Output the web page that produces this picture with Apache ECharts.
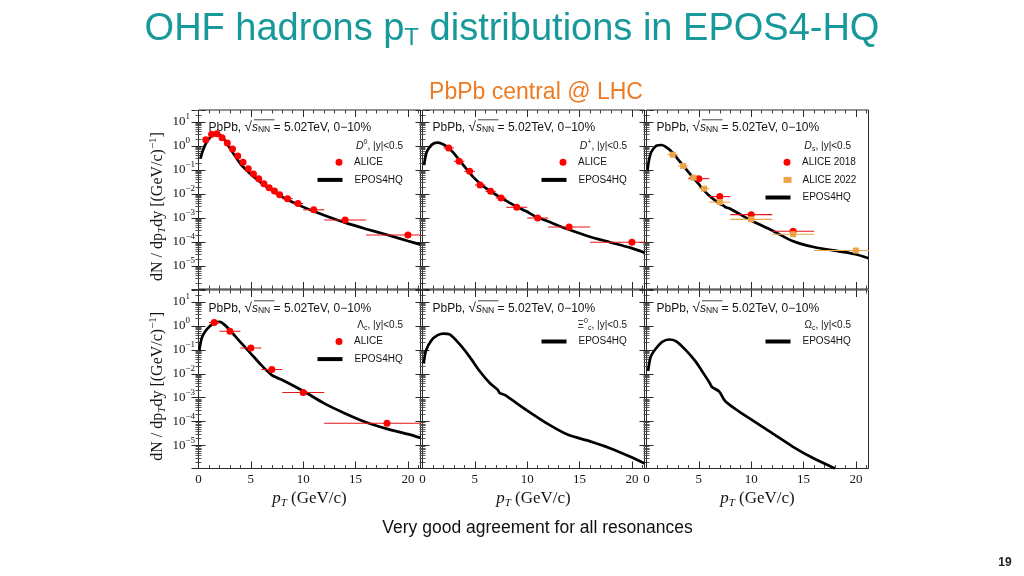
<!DOCTYPE html>
<html><head><meta charset="utf-8">
<script src="https://cdn.jsdelivr.net/npm/echarts@6/dist/echarts.min.js"></script>
<style>html,body{margin:0;padding:0;background:#fff}#c{width:1024px;height:576px}</style>
</head><body><div id="c"></div>
<script>
// ---------------- data ----------------
const Y_TICK_EXPONENTS = [1, 0, -1, -2, -3, -4, -5];
const X_TICKS = [0, 5, 10, 15, 20];

// D0
const D0_ALICE_PT  = [0.7,1.25,1.75,2.25,2.75,3.25,3.75,4.25,4.75,5.25,5.75,6.25,6.75,7.25,7.75,8.5,9.5,11,14,20];
const D0_ALICE_LO  = [0.5,1,1.5,2,2.5,3,3.5,4,4.5,5,5.5,6,6.5,7,7.5,8,9,10,12,16];
const D0_ALICE_HI  = [1,1.5,2,2.5,3,3.5,4,4.5,5,5.5,6,6.5,7,7.5,8,9,10,12,16,24];
const D0_ALICE_VAL = [1.84,3.1,3.2,2.22,1.33,0.75,0.38,0.21,0.114,0.068,0.0436,0.027,0.018,0.0133,0.0093,0.0064,0.004,0.0022,0.00083,0.000195];
const D0_EPOS_PT   = [0.2,0.3,0.5,0.75,1.0,1.25,1.5,1.75,2.0,2.5,3,3.5,4,5,6,7,8,9.5,11,12,14,16,18,20,21.2];
const D0_EPOS_VAL  = [0.3,0.45,0.8,1.4,2.0,2.6,3.1,3.2,3.0,1.75,0.8,0.38,0.18,0.066,0.029,0.014,0.0075,0.0036,0.0019,0.0013,0.00064,0.00035,0.0002,0.00011,0.000078];

// D+
const DP_ALICE_PT  = [2.5,3.5,4.5,5.5,6.5,7.5,9,11,14,20];
const DP_ALICE_LO  = [2,3,4,5,6,7,8,10,12,16];
const DP_ALICE_HI  = [3,4,5,6,7,8,10,12,16,24];
const DP_ALICE_VAL = [0.83,0.23,0.088,0.0237,0.0129,0.0068,0.0028,0.001,0.00042,0.000097];
const DP_EPOS_PT   = [0.15,0.4,0.9,1.4,1.9,2.4,2.9,3.9,4.9,5.9,6.9,7.9,8.9,9.9,10.9,11.9,13.9,15.9,17.9,19.9,21.2];
const DP_EPOS_VAL  = [0.16,0.56,1.14,1.37,1.21,0.88,0.56,0.16,0.048,0.0195,0.01,0.0055,0.0031,0.0019,0.0011,0.00075,0.00034,0.00017,0.000098,0.000057,0.000036];

// Ds
const DS22_PT  = [2.5,3.5,4.5,5.5,7,10,14,20];
const DS22_LO  = [2,3,4,5,6,8,12,16];
const DS22_HI  = [3,4,5,6,8,12,16,24];
const DS22_VAL = [0.435,0.147,0.048,0.0167,0.0046,0.00088,0.00021,0.000044];
const DS18_PT  = [5,7,10,14];
const DS18_LO  = [4,6,8,12];
const DS18_HI  = [6,8,12,16];
const DS18_VAL = [0.0436,0.0078,0.00138,0.00028];
const DS_EPOS_PT  = [0.1,0.2,0.45,0.95,1.45,1.95,2.45,2.95,3.95,4.95,5.95,6.95,7.35,7.55,7.95,9.95,11.95,13.95,15.95,19.95,21.2];
const DS_EPOS_VAL = [0.1,0.21,0.56,1.03,1.1,0.85,0.55,0.3,0.088,0.027,0.0088,0.004,0.0033,0.0028,0.0025,0.0008,0.00031,0.00011,0.000062,0.000031,0.000021];

// Lambda_c
const LC_ALICE_PT  = [1.5,3,5,7,10,18];
const LC_ALICE_LO  = [1,2,4,6,8,12];
const LC_ALICE_HI  = [2,4,6,8,12,24];
const LC_ALICE_VAL = [1.38,0.6,0.12,0.015,0.00166,0.000085];
const LC_EPOS_PT   = [0.08,0.3,0.6,1.1,1.5,2.05,2.5,3,4,5,6,7,7.5,8,10,12,14,16,18,20,21.2];
const LC_EPOS_VAL  = [0.094,0.3,0.56,1.0,1.3,1.47,1.1,0.66,0.21,0.07,0.023,0.0088,0.0068,0.0055,0.0019,0.00058,0.00022,0.000094,0.00005,0.00003,0.000021];

// Xi_c
const XC_EPOS_PT  = [0.1,0.35,0.85,1.45,2.0,2.6,3.5,4.5,5.45,6.4,7.2,7.35,7.85,9.9,12,13.9,16,17.9,19.8,21.2];
const XC_EPOS_VAL = [0.027,0.097,0.25,0.41,0.48,0.44,0.18,0.051,0.013,0.0042,0.0021,0.0016,0.0013,0.00031,0.000078,0.000028,0.000015,0.0000078,0.0000035,0.0000018];

// Omega_c
const OC_EPOS_PT  = [0.15,0.4,0.9,1.5,2.15,2.8,3.75,4.7,5.35,6.05,6.25,6.95,7.5,8.85,9.8,12,13.95,15.9,18];
const OC_EPOS_VAL = [0.013,0.051,0.114,0.215,0.27,0.23,0.097,0.032,0.012,0.004,0.0028,0.0018,0.00073,0.00026,0.00014,0.000033,0.0000091,0.000003,0.0000011];

// ---------------- layout / style ----------------
const SERIF = 'Liberation Serif, Times New Roman, serif';
const SANS = 'Liberation Sans, Arial, sans-serif';
const X_MAX = 21.2, Y_MIN = 1.1e-6, Y_MAX = 31.62;
const COL_LEFT = [198.5, 422.5, 646.5];
const COL_W = 222;
const ROW_TOP = [110, 290];
const ROW_H = [179, 178.5];
const RED = '#ff0000', ORANGE = '#eba447', BAR_RED = '#e8141c';

const panels = [
  {row:0,col:0,label:'{i|D}{sup|0}{t|, |y|<0.5}',
   alice:[{name:'ALICE',pt:D0_ALICE_PT,lo:D0_ALICE_LO,hi:D0_ALICE_HI,val:D0_ALICE_VAL,color:RED,bar:BAR_RED,symbol:'circle'}],
   epos:[D0_EPOS_PT,D0_EPOS_VAL]},
  {row:0,col:1,label:'{i|D}{sup|+}{t|, |y|<0.5}',
   alice:[{name:'ALICE',pt:DP_ALICE_PT,lo:DP_ALICE_LO,hi:DP_ALICE_HI,val:DP_ALICE_VAL,color:RED,bar:BAR_RED,symbol:'circle'}],
   epos:[DP_EPOS_PT,DP_EPOS_VAL]},
  {row:0,col:2,label:'{i|D}{subi|s}{t|, |y|<0.5}',
   alice:[{name:'ALICE 2018',pt:DS18_PT,lo:DS18_LO,hi:DS18_HI,val:DS18_VAL,color:RED,bar:BAR_RED,symbol:'circle'},
          {name:'ALICE 2022',pt:DS22_PT,lo:DS22_LO,hi:DS22_HI,val:DS22_VAL,color:ORANGE,bar:ORANGE,symbol:'rect'}],
   epos:[DS_EPOS_PT,DS_EPOS_VAL]},
  {row:1,col:0,label:'{t|Λ}{sub|c}{t|, |y|<0.5}',
   alice:[{name:'ALICE',pt:LC_ALICE_PT,lo:LC_ALICE_LO,hi:LC_ALICE_HI,val:LC_ALICE_VAL,color:RED,bar:BAR_RED,symbol:'circle'}],
   epos:[LC_EPOS_PT,LC_EPOS_VAL]},
  {row:1,col:1,label:'{t|Ξ}{sup|0}{sub|c}{t|, |y|<0.5}', alice:[], epos:[XC_EPOS_PT,XC_EPOS_VAL]},
  {row:1,col:2,label:'{t|Ω}{sub|c}{t|, |y|<0.5}', alice:[], epos:[OC_EPOS_PT,OC_EPOS_VAL]}
];

function yFmt(v){
  const e = Math.log10(v), r = Math.round(e);
  if (Math.abs(e - r) > 0.02 || Y_TICK_EXPONENTS.indexOf(r) < 0) return '';
  return '{a|10}{b|' + (r < 0 ? '−' + (-r) : r) + '}';
}
function xFmt(v){ return X_TICKS.indexOf(v) >= 0 ? String(v) : ''; }

const grid = [], xAxis = [], yAxis = [], series = [], legend = [], graphic = [];
const textColor = '#151515';

panels.forEach((p, g) => {
  const left = COL_LEFT[p.col], top = ROW_TOP[p.row], h = ROW_H[p.row];
  grid.push({left: left, top: top, width: COL_W, height: h, show: true,
             borderColor: '#2a2a2a', borderWidth: 1, backgroundColor: 'transparent'});
  const xBase = {type:'value', gridIndex:g, min:0, max:X_MAX, interval:5,
    axisLine:{show:false}, splitLine:{show:false},
    axisTick:{show:true, inside:true, length:7, lineStyle:{color:'#2a2a2a'}},
    minorTick:{show:true, splitNumber:5, length:3.5, lineStyle:{color:'#444'}}};
  const showXLabel = p.row === 1;
  xAxis.push(Object.assign({}, xBase, {position:'bottom',
    axisLabel:{show:showXLabel, formatter:xFmt, fontFamily:SERIF, fontSize:13, color:textColor, margin:5},
    name: showXLabel ? '{i|p}{s|T}{n| (GeV/c)}' : '', nameLocation:'middle', nameGap:20,
    nameTextStyle:{color:textColor, rich:{
      i:{fontFamily:SERIF, fontStyle:'italic', fontSize:17, color:textColor},
      s:{fontFamily:SERIF, fontStyle:'italic', fontSize:11, color:textColor, padding:[9,0,0,0]},
      n:{fontFamily:SERIF, fontSize:17, color:textColor}}}}));
  xAxis.push(Object.assign({}, xBase, {position:'top', axisLabel:{show:false}}));
  const yBase = {type:'log', logBase:10, gridIndex:g, min:Y_MIN, max:Y_MAX,
    axisLine:{show:false}, splitLine:{show:false},
    axisTick:{show:true, inside:true, length:7, lineStyle:{color:'#2a2a2a'}},
    minorTick:{show:true, splitNumber:9, length:3, lineStyle:{color:'#555'}}};
  const showYLabel = p.col === 0;
  yAxis.push(Object.assign({}, yBase, {position:'left',
    axisLabel:{show:showYLabel, formatter:yFmt, align:'left', margin:26, color:textColor,
      rich:{a:{fontFamily:SERIF, fontSize:13, color:textColor},
            b:{fontFamily:SERIF, fontSize:9, color:textColor, padding:[0,0,10,0]}}},
    name: showYLabel ? '{n|dN / dp}{s|T}{n|dy [(GeV/c)}{p|−1}{n|]}' : '',
    nameLocation:'middle', nameRotate:90, nameGap:30,
    nameTextStyle:{color:textColor, padding:[0,14,0,0], rich:{
      n:{fontFamily:SERIF, fontSize:16, color:textColor},
      s:{fontFamily:SERIF, fontStyle:'italic', fontSize:11, color:textColor, padding:[8,0,0,0]},
      p:{fontFamily:SERIF, fontSize:11, color:textColor, padding:[0,0,10,0]}}}}));
  yAxis.push(Object.assign({}, yBase, {position:'right', axisLabel:{show:false}}));

  const xi = 2*g, yi = 2*g;
  // model curve
  series.push({type:'line', name:'EPOS4HQ', xAxisIndex:xi, yAxisIndex:yi,
    data: p.epos[0].map((x,i)=>[x, p.epos[1][i]]),
    showSymbol:false, symbol:'none', smooth:0.25, clip:true, z:2,
    color:'#000', lineStyle:{color:'#000', width:2.7}});
  // data with horizontal error bars
  p.alice.forEach(a => {
    series.push({type:'custom', name:a.name + ' bins', xAxisIndex:xi, yAxisIndex:yi, clip:true, z:3,
      data: a.pt.map((x,i)=>[x, a.val[i], a.lo[i], a.hi[i]]),
      encode:{x:0, y:1},
      renderItem:(params, api) => {
        const y = api.value(1);
        const p1 = api.coord([api.value(2), y]);
        const p2 = api.coord([api.value(3), y]);
        return {type:'line', shape:{x1:p1[0], y1:p1[1], x2:p2[0], y2:p2[1]},
                style:{stroke:a.bar, lineWidth:1.1}};
      }});
    series.push({type:'scatter', name:a.name, xAxisIndex:xi, yAxisIndex:yi, z:4,
      data: a.pt.map((x,i)=>[x, a.val[i]]),
      symbol:a.symbol, symbolSize: a.symbol === 'rect' ? 6 : 7, color:a.color,
      itemStyle:{color:a.color, opacity:1}});
  });

  // header text
  const hy = top + (p.row === 0 ? 17.3 : 18.3);
  graphic.push({type:'text', x:left + 10, y:hy, silent:true, style:{
    text:'{t|PbPb, }{r|√}{i|s}{n|NN}{t| = 5.02TeV, 0−10%}',
    verticalAlign:'middle', textVerticalAlign:'middle', fill:textColor,
    rich:{t:{fontFamily:SANS, fontSize:12, fill:textColor},
          r:{fontFamily:SANS, fontSize:13.5, fill:textColor},
          i:{fontFamily:SANS, fontStyle:'italic', fontSize:12, fill:textColor},
          n:{fontFamily:SANS, fontSize:8.5, fill:textColor, padding:[5,0,0,0]}}}});
  graphic.push({type:'line', silent:true, shape:{x1:left + 55.5, y1:hy - 7.5, x2:left + 76, y2:hy - 7.5},
    style:{stroke:textColor, lineWidth:0.8}});
  // particle label
  graphic.push({type:'text', x:left + 204.5, y:top + (p.row === 0 ? 36 : 35), silent:true, style:{
    text:p.label, align:'right', textAlign:'right', verticalAlign:'middle', textVerticalAlign:'middle', fill:textColor,
    rich:{t:{fontFamily:SANS, fontSize:10, fill:textColor},
          i:{fontFamily:SANS, fontStyle:'italic', fontSize:10.5, fill:textColor},
          sup:{fontFamily:SANS, fontSize:7, fill:textColor, padding:[0,0,7,0]},
          sub:{fontFamily:SANS, fontSize:7, fill:textColor, padding:[6,0,0,0]},
          subi:{fontFamily:SANS, fontStyle:'italic', fontSize:7.5, fill:textColor, padding:[6,0,0,0]}}}});

  // legends: one per entry so icons can be placed individually
  const entries = p.alice.map(a => ({name:a.name, icon:a.symbol, dot:true}))
                    .concat([{name:'EPOS4HQ', icon:'rect', dot:false}]);
  entries.forEach((e, k) => {
    const cy = top + (p.row === 0 ? 53.3 : 52.5) + 17.6*k;
    const w = e.dot ? 8 : 25, hgt = e.dot ? (e.icon === 'rect' ? 6 : 7) : 4;
    legend.push({data:[{name:e.name, icon:e.icon}], orient:'vertical',
      left: left + (e.dot ? 137 : 119), top: cy - 6,
      itemWidth:w, itemHeight:hgt, itemGap:0, padding:0, selectedMode:false,
      textStyle:{fontFamily:SANS, fontSize:10, color:textColor, padding:[0,0,0, e.dot ? 6 : 7]}});
  });
});

// page texts
graphic.push({type:'text', x:512, y:30, silent:true, style:{
  text:'{t|OHF hadrons p}{s|T}{t| distributions in EPOS4-HQ}',
  align:'center', textAlign:'center', verticalAlign:'middle', textVerticalAlign:'middle',
  rich:{t:{fontFamily:SANS, fontSize:38, fill:'#17989a'},
        s:{fontFamily:SANS, fontSize:24, fill:'#17989a', padding:[16,0,0,0]}}}});
graphic.push({type:'text', x:536, y:93, silent:true, style:{
  text:'PbPb central @ LHC', align:'center', textAlign:'center', verticalAlign:'middle', textVerticalAlign:'middle',
  font:'23px ' + SANS, fontFamily:SANS, fontSize:23, fill:'#ee7a22'}});
graphic.push({type:'text', x:537.5, y:528, silent:true, style:{
  text:'Very good agreement for all resonances', align:'center', textAlign:'center', verticalAlign:'middle', textVerticalAlign:'middle',
  font:'17.5px ' + SANS, fontFamily:SANS, fontSize:17.5, fill:'#111'}});
graphic.push({type:'text', x:1005, y:563, silent:true, style:{
  text:'19', align:'center', textAlign:'center', verticalAlign:'middle', textVerticalAlign:'middle',
  font:'bold 12px ' + SANS, fontFamily:SANS, fontSize:12, fontWeight:'bold', fill:'#222'}});

const chart = echarts.init(document.getElementById('c'), null, {renderer:'canvas'});
chart.setOption({animation:false, backgroundColor:'#fff', grid, xAxis, yAxis, series, legend, graphic});
</script></body></html>
